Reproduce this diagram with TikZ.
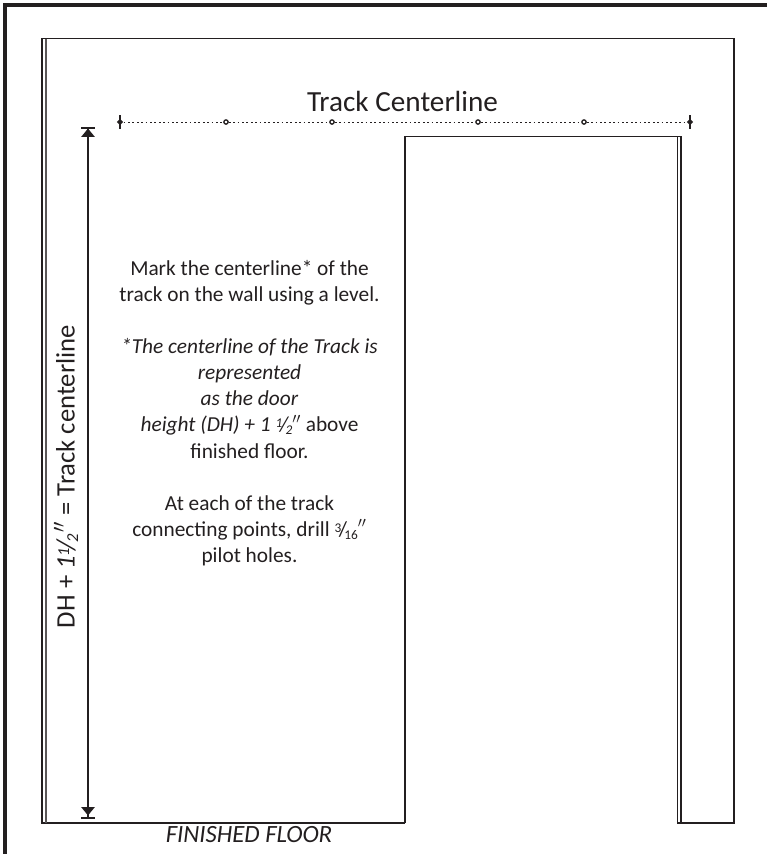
\documentclass[tikz,border=0pt]{standalone}
\usepackage{fontspec}
\setmainfont{Carlito}
\usepackage{tikz}
\usetikzlibrary{
  arrows.meta,
  chains,
  scopes,
  shapes.geometric
}
\definecolor{inkdark}{HTML}{231F20}
\newcommand{\slashfrac}[2]{\raisebox{.42ex}{\fontsize{10}{11}\selectfont #1}\kern-.12em/\kern-.12em\raisebox{-.28ex}{\fontsize{10}{11}\selectfont #2}}
\begin{document}
\begin{tikzpicture}[
      x=0.75pt,y=-0.75pt,
      wall/.style={draw=inkdark,line width=1.1pt,line join=miter},
      thin wall/.style={draw=inkdark!75,line width=.8pt},
      frame line/.style={draw=inkdark,line width=3pt},
      hole/.style={
         circle,
         draw=inkdark,
         fill=white,
         line width=1pt,
         inner sep=0pt,
         minimum size=3.2pt
      },
      track end/.style={
         diamond,
         fill=inkdark,
         inner sep=0pt,
         minimum size=5pt
      },
      track/.style={draw=inkdark,line width=.7pt,dash pattern=on 1.4pt off 1.9pt},
      dim tip/.style={
         {Bar[width=10pt,line width=1.5pt,sep=.8pt]Triangle[length=6.2pt,width=10pt]}-{Triangle[length=6.2pt,width=10pt,sep=.8pt]Bar[width=10pt,line width=1.5pt]},
         draw=inkdark,line width=.8pt
      },
      every node/.style={text=inkdark},
      every join/.style={track}
    ]
    \useasboundingbox (0,0) rectangle (767,854);
    % page frame
    \draw[frame line] (767,4.5) -- (4.5,4.5) -- (4.5,854);
    % wall and door opening
    \draw[wall] (405,823) -- (42,823) -- (42,38.5) -- (734,38.5) -- (734,823) -- (677,823);
    \draw[wall] (405,823) -- (405,136.5) -- (681,136.5) -- (681,823);
    \draw[thin wall] (46,38.5) -- (46,823);
    \draw[wall] (677.5,136.5) -- (677.5,823);
    % track
    \node (te1) [track end] at (120,122) {};
    \node (h1) [hole] at (226,122) {};
    \node (h2) [hole] at (332,122) {};
    \node (h3) [hole] at (478,122) {};
    \node (h4) [hole] at (584,122) {};
    \node (te2) [track end] at (690,122) {};
  { [start chain]
       \chainin (te1);
       \chainin (h1)    [join];
       \chainin (h2)    [join];
       \chainin (h3)    [join];
       \chainin (h4)    [join];
       \chainin (te2)   [join];
  }
    \draw[inkdark,line width=1.1pt] (te1.center) ++(0,-7) -- ++(0,14);
    \draw[inkdark,line width=1.1pt] (te2.center) ++(0,-7) -- ++(0,14);
    \node (title) at (402.5,101) {\fontsize{21.9}{24}\selectfont Track Centerline};
    % height
    \coordinate (dimtop) at (88,125.5);
    \coordinate (dimbot) at (88,818.5);
    \draw[dim tip] (dimtop) -- (dimbot);
    \node (dimlabel) [rotate=90] at (66,476.5) {\fontsize{20}{22}\selectfont DH + \textit{1\raisebox{.42ex}{\fontsize{12.5}{13}\selectfont 1}\kern-.1em/\kern-.1em\raisebox{-.28ex}{\fontsize{12.5}{13}\selectfont 2}\kern.05em$''$} = Track centerline};
    % notes
    \node (notes) [align=center,font=\fontsize{16}{19.6}\selectfont] at (249.5,413) {
      Mark the centerline* of the\\
      track on the wall using a level.\\[19.5pt]
      \textit{*The centerline of the Track is}\\
      \textit{represented}\\
      \textit{as the door}\\
      \textit{height (DH) + 1 \slashfrac{1}{2}$''$} above\\
      finished floor.\\[19.5pt]
      At each of the track\\
      connecting points, drill \slashfrac{3}{16}$''$\\
      pilot holes.
    };
    \node (floor) at (249,835) {\fontsize{18.6}{20}\selectfont\textit{FINISHED FLOOR}};
\end{tikzpicture}
\end{document}
